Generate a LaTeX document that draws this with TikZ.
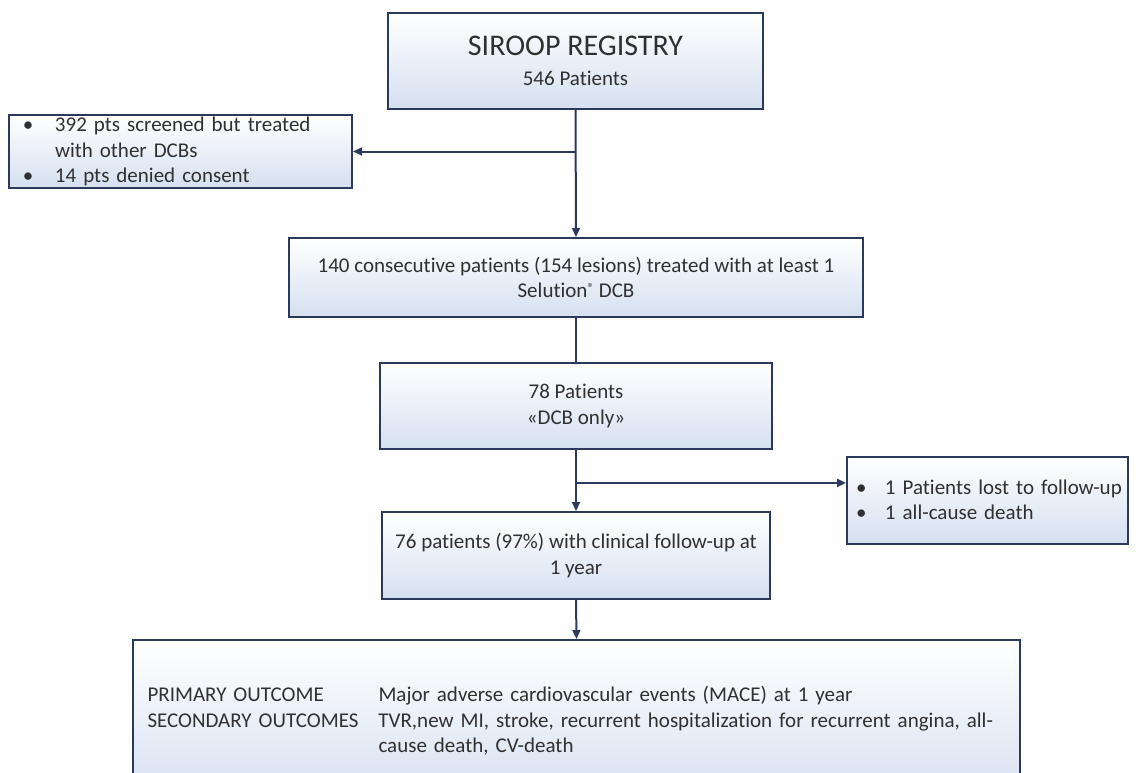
\documentclass[tikz,border=0pt]{standalone}
\usepackage{fontspec}
\setmainfont{Carlito}[Ligatures=NoCommon]
\usetikzlibrary{arrows.meta,calc}
\definecolor{navy}{HTML}{2B3A5C}
\definecolor{boxbot}{HTML}{D5E0F0}
\definecolor{txt}{HTML}{303030}
\begin{document}
\begin{tikzpicture}[x=1pt,y=-1pt,
  box/.style={draw=navy, line width=2pt, top color=white, bottom color=boxbot,
    inner sep=0pt, align=center, text=txt, font=\fontsize{21}{25.5}\selectfont},
  arr/.style={draw=navy, line width=2pt, -{Triangle[length=9pt,width=8pt]}},
  con/.style={draw=navy, line width=2pt}]
\useasboundingbox (0,0) rectangle (1138,772);
\clip (0,0) rectangle (1138,772);

\node[box, minimum width=375pt, minimum height=96pt] (top) at (575.5,61)
  {{\fontsize{30}{34}\selectfont SIROOP REGISTRY}\\[5pt]546 Patients};

\node[box, minimum width=343pt, minimum height=73pt, text width=331pt, align=left] (excl) at (180.5,151.5)
  {\makebox[40pt][l]{\hspace{8pt}•}392 pts screened but treated\\
   \hspace*{40pt}with other DCBs\\
   \makebox[40pt][l]{\hspace{8pt}•}14 pts denied consent};

\node[box, minimum width=574pt, minimum height=79pt] (c140) at (576,277.5)
  {140 consecutive patients (154 lesions) treated with at least 1\\Selution{\fontsize{13}{13}\selectfont\raisebox{5pt}{®}} DCB};

\node[box, minimum width=392pt, minimum height=86pt] (dcb) at (576,406)
  {78 Patients\\«DCB only»};

\node[box, minimum width=388pt, minimum height=87pt] (fu) at (576,555.5)
  {76 patients (97\%) with clinical follow-up at\\1 year};

\node[box, minimum width=281pt, minimum height=87pt, text width=277pt, align=left] (lost) at (987.5,500)
  {\makebox[36pt][l]{\hspace{7pt}•}1 Patients lost to follow-up\\
   \makebox[36pt][l]{\hspace{7pt}•}1 all-cause death};

\node[box, minimum width=887pt, minimum height=162pt, text width=858pt, align=left] (out) at (576.5,721)
  {\makebox[231pt][l]{PRIMARY OUTCOME}Major adverse cardiovascular events (MACE) at 1 year\\
   \makebox[231pt][l]{SECONDARY OUTCOMES}\parbox[t]{627pt}{\hyphenpenalty=10000 TVR,new MI, stroke, recurrent hospitalization for recurrent angina, all-\linebreak cause death, CV-death}};

\coordinate (br2) at ($(dcb.south)!0.54!(fu.north)$);

\draw[arr] (top.south) -- (c140.north);
\draw[arr] (top.south |- excl.east) -- (excl.east);
\draw[con] (c140.south) -- (dcb.north);
\draw[arr] (dcb.south) -- (fu.north);
\draw[arr] (br2) -- (br2 -| lost.west);
\draw[arr] (fu.south) -- (out.north);
\end{tikzpicture}
\end{document}
